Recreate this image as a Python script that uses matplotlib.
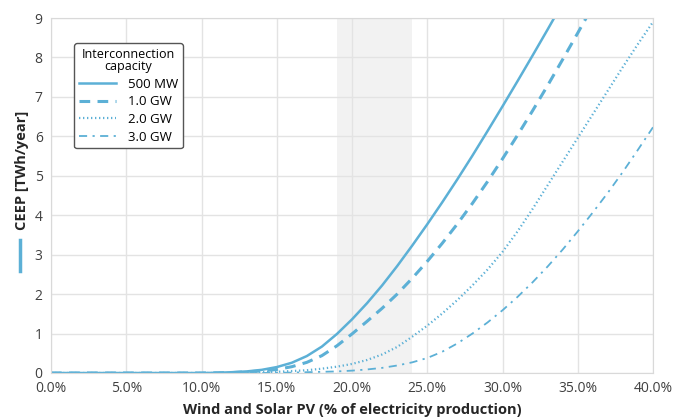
import matplotlib.pyplot as plt
from matplotlib.lines import Line2D

plt.rcParams['font.family'] = ['Open Sans', 'DejaVu Sans']

# share of wind and solar PV (%)
share = [0, 10, 11, 12, 13, 14, 15, 16, 17, 18, 19, 20, 21, 22, 23, 24, 25,
         26, 27, 28, 29, 30, 31, 32, 33, 34, 35, 36, 37, 38, 39, 40]

# CEEP in TWh/year for each interconnection capacity
ceep_500mw = [0, 0.0, 0.005, 0.02, 0.04, 0.08, 0.15, 0.26, 0.43, 0.67, 0.99, 1.36,
              1.77, 2.22, 2.71, 3.23, 3.77, 4.33, 4.91, 5.51, 6.13, 6.76, 7.40,
              8.05, 8.71, 9.38, 10.1, 10.8, 11.5, 12.2, 12.9, 13.6]
ceep_1gw = [0, 0.0, 0.005, 0.01, 0.03, 0.05, 0.09, 0.16, 0.27, 0.44, 0.69, 0.99,
            1.31, 1.64, 2.00, 2.40, 2.83, 3.29, 3.78, 4.30, 4.85, 5.43, 6.03,
            6.65, 7.29, 7.95, 8.62, 9.30, 10.0, 10.7, 11.4, 12.1]
ceep_2gw = [0, 0.0, 0.0, 0.0, 0.01, 0.02, 0.03, 0.05, 0.07, 0.11, 0.16, 0.23,
            0.33, 0.47, 0.66, 0.92, 1.20, 1.51, 1.85, 2.22, 2.62, 3.07, 3.59,
            4.16, 4.76, 5.36, 5.96, 6.56, 7.16, 7.76, 8.34, 8.90]
ceep_3gw = [0, 0.0, 0.0, 0.0, 0.0, 0.0, 0.005, 0.01, 0.02, 0.03, 0.04, 0.06,
            0.09, 0.13, 0.19, 0.27, 0.38, 0.54, 0.75, 1.0, 1.28, 1.59, 1.93,
            2.30, 2.70, 3.13, 3.59, 4.07, 4.57, 5.10, 5.66, 6.23]

labels = ['500 MW', '1.0 GW', '2.0 GW', '3.0 GW']
band = (19, 24)

blue = '#5cb0d6'
grid_col = '#e3e3e3'

fig = plt.figure(figsize=(6.77, 4.2), dpi=100)
ax = fig.add_axes([51 / 677, 1 - 373 / 420, 602 / 677, 355 / 420])

ax.axvspan(band[0], band[1], color='#f2f2f2', zorder=0, lw=0)

ax.plot(share, ceep_500mw, color=blue, lw=1.8, label=labels[0])
ax.plot(share, ceep_1gw, color=blue, lw=2.2, dashes=(3.5, 2.4), label=labels[1])
ax.plot(share, ceep_2gw, color=blue, lw=1.6, dashes=(0.6, 1.2), label=labels[2])
ax.plot(share, ceep_3gw, color=blue, lw=1.3, dashes=(4.5, 3, 1.2, 3), label=labels[3])

ax.set_xlim(0, 40)
ax.set_ylim(0, 9)
ax.set_xticks(range(0, 41, 5))
ax.set_xticklabels([f'{v:.1f}%' for v in range(0, 41, 5)])
ax.set_yticks(range(0, 10))

ax.grid(True, color=grid_col, lw=1)
ax.set_axisbelow(True)
for s in ax.spines.values():
    s.set_color('#d9d9d9')
ax.tick_params(length=0, labelsize=10, colors='#404040', pad=6)

leg = ax.legend(title='Interconnection\ncapacity', loc='upper left',
                bbox_to_anchor=(0.028, 0.948), fontsize=9.5, title_fontsize=9,
                handlelength=2.8, handletextpad=0.9, labelspacing=0.35,
                borderpad=0.35, frameon=True, fancybox=True,
                edgecolor='#555555', framealpha=1)
leg.get_frame().set_linewidth(1.0)
leg.get_title().set_multialignment('center')
leg.get_title().set_linespacing(0.95)

fig.text(352 / 677, 1 - 410 / 420, 'Wind and Solar PV (% of electricity production)',
         ha='center', va='center', fontsize=10.5, fontweight='bold', color='#262626')
fig.text(22 / 677, 1 - 170 / 420, 'CEEP [TWh/year]', rotation=90,
         ha='center', va='center', fontsize=10.5, fontweight='bold', color='#262626')
fig.add_artist(Line2D([20 / 677, 20 / 677], [1 - 240 / 420, 1 - 271 / 420],
                      color=blue, lw=2.5, transform=fig.transFigure))

fig.savefig('out.png', dpi=100)
